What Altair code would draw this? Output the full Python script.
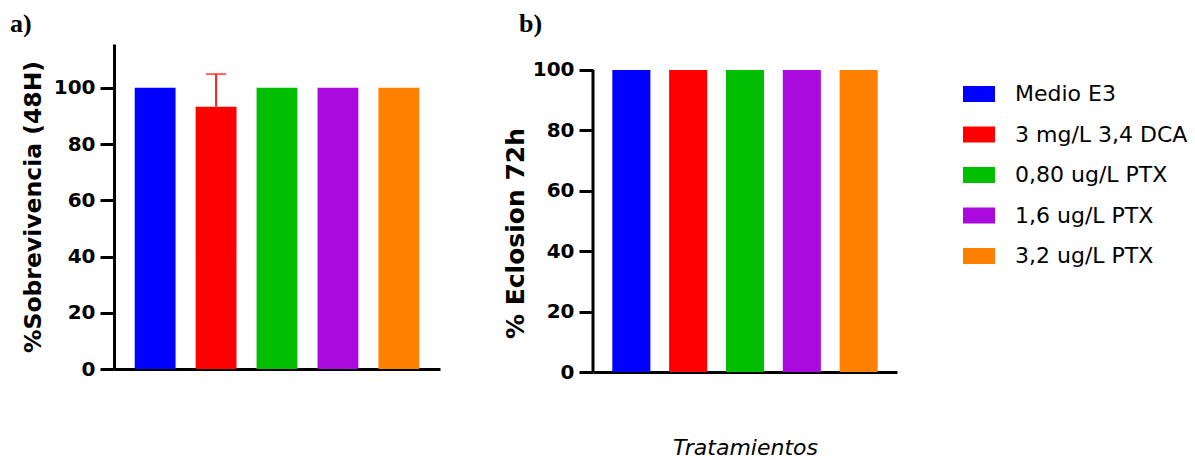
import altair as alt
import pandas as pd

treatments = ["Medio E3", "3 mg/L 3,4 DCA", "0,80 ug/L PTX", "1,6 ug/L PTX", "3,2 ug/L PTX"]
colors = ["#0000FF", "#FF0000", "#00BF00", "#AA0ADE", "#FF8000"]
survival_mean = [100, 93.3, 100, 100, 100]
survival_sd = [0, 11.6, 0, 0, 0]
hatching_mean = [100, 100, 100, 100, 100]
y_ticks = [0, 20, 40, 60, 80, 100]

df_a = pd.DataFrame({"trat": treatments, "val": survival_mean, "sd": survival_sd})
df_a["upper"] = df_a["val"] + df_a["sd"]
df_err = df_a[df_a["sd"] > 0]
df_b = pd.DataFrame({"trat": treatments, "val": hatching_mean})
df_axis_b = pd.DataFrame({"y0": [min(y_ticks)], "y1": [max(y_ticks)]})

FONT = "DejaVu Sans"

legend = alt.Legend(
    orient="none", legendX=849, legendY=34, title=None,
    symbolType="M-1,-0.5H1V0.5H-1Z", symbolSize=1024, symbolStrokeWidth=0,
    symbolOpacity=1, labelFont=FONT, labelFontSize=22, labelLimit=0,
    labelColor="black", rowPadding=13.5, labelOffset=20,
)
color = alt.Color("trat:N", scale=alt.Scale(domain=treatments, range=colors), legend=legend)


def x_enc(title=None, tpad=0):
    kw = dict(labels=False, ticks=False, domainWidth=3, domainColor="black", grid=False)
    if title:
        kw.update(title=title, titleFont=FONT, titleFontSize=22, titleFontStyle="italic",
                  titleFontWeight="normal", titlePadding=tpad, titleColor="black")
    else:
        kw.update(title=None)
    return alt.X("trat:N", sort=treatments,
                 scale=alt.Scale(paddingInner=0.33, paddingOuter=0.34),
                 axis=alt.Axis(**kw))


def y_axis(title, tsize, tpad, domain=True, title_y=None):
    kw = dict(values=y_ticks, tickSize=14, tickWidth=3, tickColor="black",
              domain=domain, domainWidth=3, domainColor="black", grid=False,
              labelFont=FONT, labelFontWeight="bold", labelFontSize=20,
              labelPadding=5, labelColor="black",
              title=title, titleFont=FONT, titleFontSize=tsize,
              titleFontWeight="bold", titlePadding=tpad, titleColor="black")
    if title_y is not None:
        kw["titleY"] = title_y
    return alt.Axis(**kw)


# Panel a
bars_a = alt.Chart(df_a).mark_bar().encode(
    x=x_enc(),
    y=alt.Y("val:Q", scale=alt.Scale(domain=[0, 115.6], nice=False),
            axis=y_axis("%Sobrevivencia (48H)", 23.5, 8)),
    color=color,
)
err_a = alt.Chart(df_err).mark_rule(color="#FF2020", strokeWidth=2).encode(
    x=alt.X("trat:N", sort=treatments), y="val:Q", y2="upper:Q")
cap_a = alt.Chart(df_err).mark_tick(color="#FF2020", thickness=2, size=20).encode(
    x=alt.X("trat:N", sort=treatments), y="upper:Q")
lab_a = alt.Chart(pd.DataFrame({"t": ["a)"]})).mark_text(
    font="Liberation Serif", fontWeight="bold", fontSize=26, align="left",
    baseline="alphabetic", color="black").encode(
    text="t:N", x=alt.value(-104), y=alt.value(-12))
panel_a = alt.layer(bars_a, err_a, cap_a, lab_a).properties(width=326, height=325)

# Panel b
bars_b = alt.Chart(df_b).mark_bar().encode(
    x=x_enc("Tratamientos", 65),
    y=alt.Y("val:Q", scale=alt.Scale(domain=[0, 108.6], nice=False),
            axis=y_axis("% Eclosion 72h", 25, 4, domain=False, title_y=189)),
    color=color,
)
axis_line_b = alt.Chart(df_axis_b).mark_rule(color="black", strokeWidth=3).encode(
    x=alt.value(0), y="y0:Q", y2="y1:Q")
lab_b = alt.Chart(pd.DataFrame({"t": ["b)"]})).mark_text(
    font="Liberation Serif", fontWeight="bold", fontSize=26, align="left",
    baseline="alphabetic", color="black").encode(
    text="t:N", x=alt.value(-74), y=alt.value(-12))
panel_b = alt.layer(bars_b, axis_line_b, lab_b).properties(width=304, height=328)

chart = alt.hconcat(panel_a, panel_b, spacing=63).properties(
    padding={"left": 10, "top": 11, "right": 0, "bottom": 0},
    background="white",
).configure_view(stroke=None)

chart.save("out.html", embed_options={"renderer": "svg", "actions": False})
